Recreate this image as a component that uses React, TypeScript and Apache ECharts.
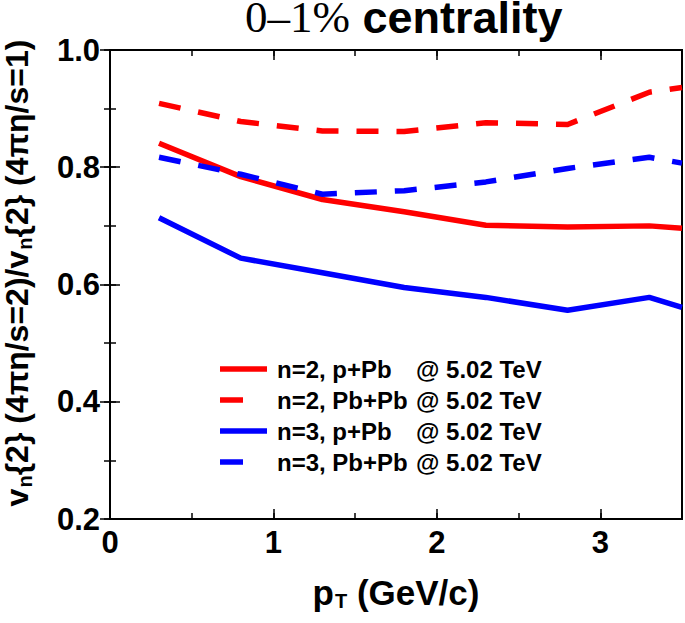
import React, { useEffect, useRef } from "react";
import * as echarts from "echarts";

// ---- data ----
const pT = [0.3, 0.8, 1.3, 1.8, 2.3, 2.8, 3.3, 3.5];
const n2_pPb = [0.841, 0.784, 0.745, 0.724, 0.701, 0.698, 0.7, 0.696];
const n2_PbPb = [0.909, 0.878, 0.862, 0.861, 0.876, 0.873, 0.928, 0.936];
const n3_pPb = [0.714, 0.645, 0.62, 0.595, 0.578, 0.556, 0.578, 0.561];
const n3_PbPb = [0.817, 0.788, 0.754, 0.76, 0.775, 0.798, 0.817, 0.807];

const seriesNames = ["n=2, p+Pb", "n=2, Pb+Pb", "n=3, p+Pb", "n=3, Pb+Pb"];
const energyLabel = "@ 5.02 TeV";
const titleSerif = "0\u20131%";
const titleSans = "centrality";
const xTickLabels = ["0", "1", "2", "3"];
const yTickLabels = ["0.2", "0.4", "0.6", "0.8", "1.0"];

const SANS = "'Liberation Sans', Arial, Helvetica, sans-serif";
const SERIF = "'Liberation Serif', 'Times New Roman', serif";

const RED = "#ff0000";
const BLUE = "#0000ff";

function pairs(ys: number[]) {
  return pT.map((x, i) => [x, ys[i]]);
}

export default function App() {
  const ref = useRef<HTMLDivElement>(null);

  useEffect(() => {
    if (!ref.current) return;
    const chart = echarts.init(ref.current, undefined, { renderer: "svg" });

    const grid = { left: 110, top: 50, right: 2, bottom: 104 };

    const minorLen = 6;
    const majorLen = 10;
    const tickStyle = { color: "#000", width: 1.5 };

    const baseAxis = (extra: any) => ({
      type: "value",
      splitLine: { show: false },
      axisLine: { show: false },
      axisLabel: { show: false },
      ...extra,
    });

    const xAxis = [
      baseAxis({
        position: "bottom",
        min: 0,
        max: 3.5,
        interval: 0.5,
        axisLine: { show: true, onZero: false, lineStyle: { color: "#000", width: 2 } },
        axisTick: { show: true, inside: true, length: minorLen, lineStyle: tickStyle },
        axisLabel: {
          show: true,
          margin: 8,
          fontSize: 31,
          fontWeight: "bold",
          fontFamily: SANS,
          color: "#000",
          formatter: (v: number) => {
            const i = xTickLabels.indexOf(String(v));
            return i >= 0 ? xTickLabels[i] : "";
          },
        },
      }),
      baseAxis({
        position: "bottom",
        min: 0,
        max: 3.5,
        interval: 1,
        axisTick: { show: true, inside: true, length: majorLen, lineStyle: tickStyle },
      }),
      baseAxis({
        position: "top",
        min: 0,
        max: 3.5,
        interval: 0.5,
        axisTick: { show: true, inside: true, length: minorLen, lineStyle: tickStyle },
      }),
      baseAxis({
        position: "top",
        min: 0,
        max: 3.5,
        interval: 1,
        axisTick: { show: true, inside: true, length: majorLen, lineStyle: tickStyle },
      }),
    ];

    const yAxis = [
      baseAxis({
        position: "left",
        min: 0.2,
        max: 1.0,
        interval: 0.1,
        axisLine: { show: true, onZero: false, lineStyle: { color: "#000", width: 2 } },
        axisTick: { show: true, inside: true, length: minorLen, lineStyle: tickStyle },
        axisLabel: {
          show: true,
          margin: 10,
          fontSize: 31,
          fontWeight: "bold",
          fontFamily: SANS,
          color: "#000",
          formatter: (v: number) => {
            const s = v.toFixed(1);
            return yTickLabels.indexOf(s) >= 0 ? s : "";
          },
        },
      }),
      baseAxis({
        position: "left",
        min: 0.2,
        max: 1.0,
        interval: 0.2,
        axisTick: { show: true, inside: true, length: majorLen, lineStyle: tickStyle },
      }),
      baseAxis({
        position: "right",
        min: 0.2,
        max: 1.0,
        interval: 0.1,
        axisTick: { show: true, inside: true, length: minorLen, lineStyle: tickStyle },
      }),
      baseAxis({
        position: "right",
        min: 0.2,
        max: 1.0,
        interval: 0.2,
        axisTick: { show: true, inside: true, length: majorLen, lineStyle: tickStyle },
      }),
    ];

    const dash = [22, 18];
    const mkSeries = (name: string, ys: number[], color: string, dashed: boolean) => ({
      name,
      type: "line",
      xAxisIndex: 0,
      yAxisIndex: 0,
      data: pairs(ys),
      symbol: "none",
      showSymbol: false,
      clip: true,
      lineStyle: { color, width: 5.5, type: dashed ? dash : "solid", cap: "butt", join: "round" },
      itemStyle: { color },
    });

    const solidIcon = "path://M0,0H47V5.5H0Z";
    const dashIcon = "path://M0,0H23V5.5H0Z M47,0L47,5.5";

    const yTitleMain = { fontSize: 32, fontWeight: "bold", fontFamily: SANS, fill: "#000", lineHeight: 36 };
    const yTitleSub = { fontSize: 20, fontWeight: "bold", fontFamily: SANS, fill: "#000", lineHeight: 20, padding: [24, 0, 0, 1], verticalAlign: "bottom" };

    const option: any = {
      animation: false,
      backgroundColor: "#fff",
      grid: { ...grid, show: true, borderColor: "#000", borderWidth: 2, backgroundColor: "transparent" },
      xAxis,
      yAxis,
      legend: {
        orient: "vertical",
        left: 220,
        top: 357,
        padding: 0,
        itemWidth: 47,
        itemHeight: 5.5,
        itemGap: 7,
        selectedMode: false,
        itemStyle: { borderWidth: 0 },
        data: [
          { name: seriesNames[0], icon: solidIcon },
          { name: seriesNames[1], icon: dashIcon },
          { name: seriesNames[2], icon: solidIcon },
          { name: seriesNames[3], icon: dashIcon },
        ],
        formatter: (name: string) => `{a|${name}}{b|${energyLabel}}`,
        textStyle: {
          fontSize: 24,
          fontWeight: "bold",
          fontFamily: SANS,
          color: "#000",
          rich: {
            a: { width: 139, padding: [0, 0, 0, 5], fontSize: 24, fontWeight: "bold", fontFamily: SANS, color: "#000", lineHeight: 24 },
            b: { fontSize: 24, fontWeight: "bold", fontFamily: SANS, color: "#000", lineHeight: 24 },
          },
        },
      },
      series: [
        mkSeries(seriesNames[0], n2_pPb, RED, false),
        mkSeries(seriesNames[1], n2_PbPb, RED, true),
        mkSeries(seriesNames[2], n3_pPb, BLUE, false),
        mkSeries(seriesNames[3], n3_PbPb, BLUE, true),
      ],
      graphic: [
        {
          type: "text",
          x: 245,
          y: 17,
          style: {
            text: `{a|${titleSerif}} {b|${titleSans}}`,
            fontSize: 45,
            fontWeight: "bold",
            fontFamily: SANS,
            lineHeight: 34,
            fill: "#000",
            align: "left",
            verticalAlign: "middle",
            rich: {
              a: { fontSize: 45, fontFamily: SERIF, fontWeight: "normal", fill: "#000", lineHeight: 34 },
              b: { fontSize: 45, fontFamily: SANS, fontWeight: "bold", fill: "#000", lineHeight: 34 },
            },
          },
        },
        {
          type: "text",
          x: 396,
          y: 592,
          style: {
            text: "{m|p}{s|T}{m| (GeV/c)}",
            fill: "#000",
            align: "center",
            verticalAlign: "middle",
            rich: {
              m: { fontSize: 35, fontWeight: "bold", fontFamily: SANS, fill: "#000", lineHeight: 38 },
              s: { fontSize: 20, fontWeight: "bold", fontFamily: SANS, fill: "#000", lineHeight: 20, padding: [25, 0, 0, 1], verticalAlign: "bottom" },
            },
          },
        },
        {
          type: "text",
          x: 17,
          y: 273,
          rotation: Math.PI / 2,
          style: {
            text: "{m|v}{s|n}{2} (4\u03C0\u03B7/s=2)/{m|v}{s|n}{2} (4\u03C0\u03B7/s=1)",
            fontSize: 32,
            fontWeight: "bold",
            fontFamily: SANS,
            lineHeight: 36,
            fill: "#000",
            align: "center",
            verticalAlign: "middle",
            rich: {
              m: yTitleMain,
              s: yTitleSub,
            },
          },
        },
      ],
    };

    chart.setOption(option);
    return () => chart.dispose();
  }, []);

  return <div ref={ref} style={{ width: 685, height: 623, position: "absolute", left: 0, top: 0 }} />;
}
